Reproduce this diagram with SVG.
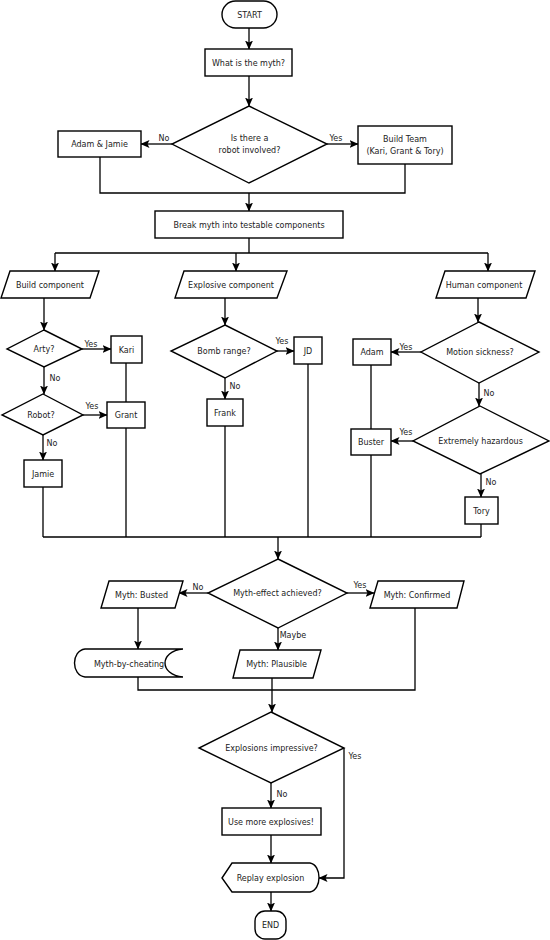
<svg xmlns="http://www.w3.org/2000/svg" width="550" height="940" viewBox="0 0 550 940">
<defs>
<marker id="ah" markerUnits="userSpaceOnUse" markerWidth="9" markerHeight="8" refX="8.5" refY="4" orient="auto">
<path d="M0,0 L9,4 L0,8 L2,4 Z" fill="#000"/>
</marker>
<style>
.s{fill:#fff;stroke:#000;stroke-width:1.4}
.c{fill:none;stroke:#000;stroke-width:1.3}
.a{marker-end:url(#ah)}
text{font-family:"DejaVu Sans","Noto Sans",sans-serif;font-size:8px;fill:#222;text-anchor:middle}
</style>
</defs>
<rect width="550" height="940" fill="#fff"/>
<g id="connectors">
<path class="c a" d="M249,28V49"/>
<path class="c a" d="M249,76V106"/>
<path class="c a" d="M172,144H141"/>
<path class="c a" d="M327,144H358"/>
<path class="c" d="M100,157V193H405V164"/>
<path class="c a" d="M249,193V211"/>
<path class="c" d="M249,238V253M55,253H488"/>
<path class="c a" d="M55,253V271"/>
<path class="c a" d="M236,253V271"/>
<path class="c a" d="M488,253V271"/>
<path class="c a" d="M44,298V330"/>
<path class="c a" d="M82,349H111"/>
<path class="c a" d="M44,367V394"/>
<path class="c a" d="M83,415H107"/>
<path class="c a" d="M43,435V460"/>
<path class="c" d="M126,363V402M126,428V537M43,487V537"/>
<path class="c a" d="M225,298V325"/>
<path class="c a" d="M277,351H294"/>
<path class="c a" d="M225,378V399"/>
<path class="c" d="M308,364V537M225,426V537"/>
<path class="c a" d="M478,298V322"/>
<path class="c a" d="M421,352H391"/>
<path class="c a" d="M479,383V406"/>
<path class="c a" d="M413,441H391"/>
<path class="c a" d="M481,474V497"/>
<path class="c" d="M371,365V429M371,455V537M481,524V537M43,537H481"/>
<path class="c a" d="M278,537V559"/>
<path class="c a" d="M208,593H179"/>
<path class="c a" d="M347,593H374"/>
<path class="c a" d="M278,628V650"/>
<path class="c a" d="M138,608V649"/>
<path class="c" d="M138,677V690H415V608"/>
<path class="c a" d="M272,678V712"/>
<path class="c a" d="M271,783V808"/>
<path class="c a" d="M271,835V863"/>
<path class="c a" d="M344,748V878H319"/>
<path class="c a" d="M271,892V911"/>
<text x="164" y="141">No</text>
<text x="336" y="141">Yes</text>
<text x="91" y="347">Yes</text>
<text x="55" y="381">No</text>
<text x="92" y="409">Yes</text>
<text x="52" y="446">No</text>
<text x="282" y="344">Yes</text>
<text x="235" y="389">No</text>
<text x="406" y="350">Yes</text>
<text x="489" y="396">No</text>
<text x="406" y="435">Yes</text>
<text x="491" y="485">No</text>
<text x="198" y="590">No</text>
<text x="360" y="588">Yes</text>
<text x="293" y="638">Maybe</text>
<text x="282" y="797">No</text>
<text x="355" y="759">Yes</text>
</g>
<g id="start"><rect class="s" x="222" y="1" width="55" height="27" rx="13.5"/><text x="249.5" y="17.5">START</text></g>
<g id="what-myth"><rect class="s" x="205" y="49" width="87" height="27"/><text x="248.5" y="65.5">What is the myth?</text></g>
<g id="robot-involved"><polygon class="s" points="249,106 327,144 249,183 172,144"/><text x="249.5" y="141">Is there a</text><text x="249.5" y="153">robot involved?</text></g>
<g id="adam-jamie"><rect class="s" x="58" y="131" width="83" height="26"/><text x="99.5" y="147">Adam &amp; Jamie</text></g>
<g id="build-team"><rect class="s" x="358" y="126" width="94" height="38"/><text x="405" y="142">Build Team</text><text x="405" y="154">(Kari, Grant &amp; Tory)</text></g>
<g id="break-myth"><rect class="s" x="155" y="211" width="188" height="27"/><text x="249" y="228">Break myth into testable components</text></g>
<g id="build-component"><polygon class="s" points="10,271 99,271 90,298 1,298"/><text x="50" y="287.5">Build component</text></g>
<g id="explosive-component"><polygon class="s" points="184,271 287,271 277,298 175,298"/><text x="231" y="287.5">Explosive component</text></g>
<g id="human-component"><polygon class="s" points="445,271 535,271 526,298 436,298"/><text x="484" y="287.5">Human component</text></g>
<g id="arty"><polygon class="s" points="44,330 82,349 44,367 7,349"/><text x="44" y="352">Arty?</text></g>
<g id="kari"><rect class="s" x="111" y="336" width="31" height="27"/><text x="126.5" y="352.5">Kari</text></g>
<g id="robot"><polygon class="s" points="43,394 83,415 43,435 2,415"/><text x="41" y="418">Robot?</text></g>
<g id="grant"><rect class="s" x="107" y="402" width="38" height="26"/><text x="126" y="418">Grant</text></g>
<g id="jamie"><rect class="s" x="24" y="460" width="38" height="27"/><text x="43" y="476.5">Jamie</text></g>
<g id="bomb-range"><polygon class="s" points="225,325 277,351 225,378 171,351"/><text x="224" y="354">Bomb range?</text></g>
<g id="jd"><rect class="s" x="294" y="337" width="28" height="27"/><text x="308" y="353.5">JD</text></g>
<g id="frank"><rect class="s" x="207" y="399" width="36" height="27"/><text x="225" y="415.5">Frank</text></g>
<g id="motion-sickness"><polygon class="s" points="479,322 539,352 479,383 421,352"/><text x="480" y="355">Motion sickness?</text></g>
<g id="adam"><rect class="s" x="353" y="339" width="38" height="26"/><text x="372" y="355">Adam</text></g>
<g id="extremely-hazardous"><polygon class="s" points="480,406 549,441 480,474 413,441"/><text x="480.5" y="444">Extremely hazardous</text></g>
<g id="buster"><rect class="s" x="351" y="429" width="40" height="26"/><text x="371" y="445">Buster</text></g>
<g id="tory"><rect class="s" x="465" y="497" width="33" height="27"/><text x="481.5" y="513.5">Tory</text></g>
<g id="myth-effect"><polygon class="s" points="278,559 347,593 278,628 208,593"/><text x="277.5" y="596">Myth-effect achieved?</text></g>
<g id="myth-busted"><polygon class="s" points="109,581 183,581 175,608 101,608"/><text x="141.5" y="597.5">Myth: Busted</text></g>
<g id="myth-confirmed"><polygon class="s" points="378,581 464,581 457,608 370,608"/><text x="417" y="597.5">Myth: Confirmed</text></g>
<g id="myth-by-cheating"><path class="s" d="M85,649H183C159,651 159,675 183,677H85C71,675 71,651 85,649Z"/><text x="129" y="667">Myth-by-cheating</text></g>
<g id="myth-plausible"><polygon class="s" points="240,650 321,650 313,678 233,678"/><text x="276.5" y="667">Myth: Plausible</text></g>
<g id="explosions-impressive"><polygon class="s" points="271,712 344,748 271,783 199,748"/><text x="271.5" y="751">Explosions impressive?</text></g>
<g id="use-more"><rect class="s" x="222" y="808" width="99" height="27"/><text x="271" y="824.5">Use more explosives!</text></g>
<g id="replay"><path class="s" d="M222,878L232,863H310C322,865 322,890 310,892H232Z"/><text x="270.5" y="880.5">Replay explosion</text></g>
<g id="end"><rect class="s" x="255" y="911" width="31" height="28" rx="10"/><text x="270.5" y="928">END</text></g>
</svg>
